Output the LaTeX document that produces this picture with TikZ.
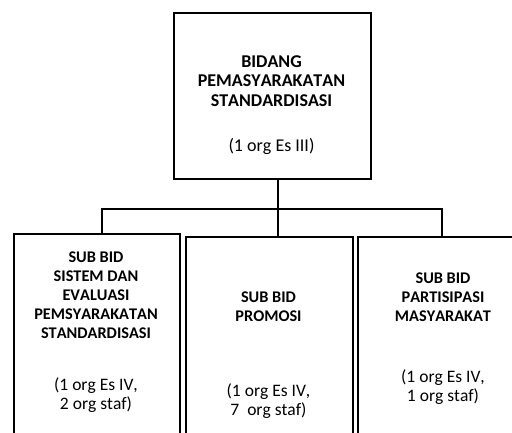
\documentclass[tikz,border=0pt]{standalone}
\usepackage{fontspec}
\setmainfont{Carlito}[Kerning=Off]
\begin{document}
\begin{tikzpicture}[x=1pt,y=-1pt,
  box/.style={draw=black,line width=1.6pt,rectangle,inner sep=0pt},
  conn/.style={draw=black,line width=1.6pt},
  headb/.style={font=\fontsize{18}{19.5}\selectfont\bfseries,align=center,inner sep=0pt},
  headr/.style={font=\fontsize{18}{20}\selectfont,align=center,inner sep=0pt},
  subb/.style={font=\fontsize{16.3}{19}\selectfont\bfseries,align=center,inner sep=0pt},
  subr/.style={font=\fontsize{17.5}{19.5}\selectfont,align=center,inner sep=0pt}]
\useasboundingbox (0,0) rectangle (512,433);
\clip (0,0) rectangle (512,433);
% boxes
\node[box,anchor=north west,minimum width=197pt,minimum height=166pt] (top) at (173,12) {};
\node[box,anchor=north west,minimum width=166pt,minimum height=260pt] (left) at (13,233) {};
\node[box,anchor=north west,minimum width=167pt,minimum height=260pt] (mid) at (185,236) {};
\node[box,anchor=north west,minimum width=200pt,minimum height=260pt] (right) at (357,236) {};
% texts
\node[headb] (t1) at (271.5,81) {BIDANG\\PEMASYARAKATAN\\STANDARDISASI};
\node[headr] (t2) at (271.5,146) {(1 org Es III)};
\node[subb] (l1) at (96,295) {SUB BID\\SISTEM DAN\\EVALUASI\\PEMSYARAKATAN\\STANDARDISASI};
\node[subr] (l2) at (96,395) {(1 org Es IV,\\2 org staf)};
\node[subb] (m1) at (268.5,306.5) {SUB BID\\PROMOSI};
\node[subr] (m2) at (268.5,401) {(1 org Es IV,\\7\ \ org staf)};
\node[subb] (r1) at (443,297) {SUB BID\\PARTISIPASI\\MASYARAKAT};
\node[subr] (r2) at (443,387) {(1 org Es IV,\\1 org staf)};
% connectors
\coordinate (bus) at (278,209);
\coordinate (lt) at (102,233);
\coordinate (mt) at (278,236);
\coordinate (rt) at (442,236);
\draw[conn] (top.south -| bus) -- (bus);
\draw[conn] (lt) |- (bus);
\draw[conn] (rt) |- (bus);
\draw[conn] (mt) -- (bus);
\end{tikzpicture}
\end{document}
